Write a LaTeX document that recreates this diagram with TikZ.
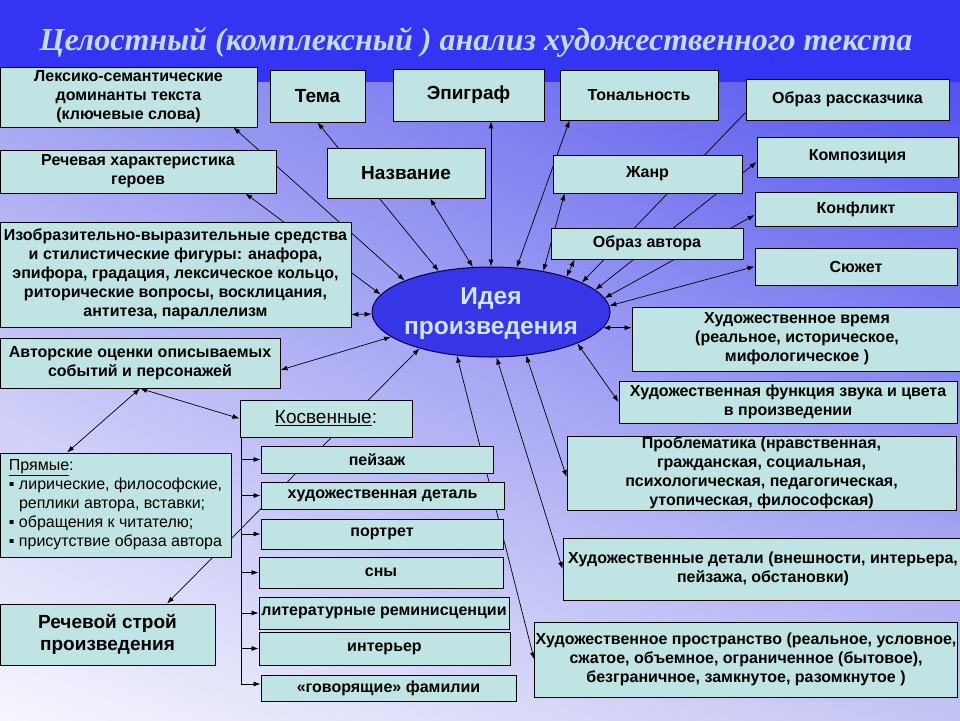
\documentclass[tikz,border=0pt]{standalone}
\usepackage{fontspec}
\setmainfont{Liberation Sans}
\newfontfamily\headserif{Liberation Serif}
\usepackage{tikz}
\usetikzlibrary{calc,arrows.meta,shapes.geometric,shadings}
\definecolor{band}{HTML}{3434F2}
\definecolor{cell}{HTML}{C0E3E3}
\definecolor{core}{HTML}{3636E6}
\definecolor{corelab}{HTML}{CFE5FF}
\definecolor{head}{HTML}{C3DCF5}
\definecolor{bgul}{HTML}{A4A4F2}
\definecolor{bgur}{HTML}{5252EE}
\definecolor{bgll}{HTML}{F6F6FE}
\definecolor{bglr}{HTML}{C4C4F4}
\tikzset{
  box/.style={draw=black, fill=cell, line width=0.9pt, inner sep=1pt, align=center, font=\bfseries\fontsize{16}{19}\selectfont},
  big/.style={box, font=\bfseries\fontsize{19}{22}\selectfont},
  sub/.style={box, font=\bfseries\fontsize{16}{18}\selectfont},
  plain/.style={box, align=left, font=\fontsize{16}{19}\selectfont},
  hub/.style={ellipse, draw=black!70!blue, fill=core, line width=1pt, inner sep=0pt, minimum width=238pt, minimum height=90pt},
  hublab/.style={text=corelab, align=center, font=\bfseries\fontsize{24.5}{30}\selectfont},
  headline/.style={text=head, font=\headserif\bfseries\itshape\fontsize{32}{36}\selectfont},
  link/.style={draw=black, line width=0.7pt, {Latex[length=7pt,width=5pt]}-{Latex[length=7pt,width=5pt]}},
  one/.style={draw=black, line width=0.7pt, -{Latex[length=7pt,width=5pt]}},
}
\pgfdeclarelayer{back}
\pgfdeclarelayer{lines}
\pgfsetlayers{back,lines,main}

\begin{document}
\begin{tikzpicture}[x=1pt, y=-1pt]
  \useasboundingbox (0,0) rectangle (960,720);
  \begin{pgfonlayer}{back}
    \shade[upper left=bgul, upper right=bgur, lower left=bgll, lower right=bglr] (0,82) rectangle (960,720);
    \fill[band] (0,0) rectangle (960,82);
  \end{pgfonlayer}

  \node[headline] (head) at (476,42) {Целостный (комплексный ) анализ художественного текста};

  \node[hub] (idea) at (491,312) {};
  \node[hublab] at ([yshift=-2pt]idea.center) {Идея\\произведения};

  \node[box, minimum width=257pt, minimum height=60pt] (lex) at (128.5,97) {Лексико-семантические\\доминанты текста\\(ключевые слова)};
  \node[big, minimum width=95pt, minimum height=52pt] (tema) at (317.5,96) {Тема};
  \node[big, minimum width=151pt, minimum height=52pt] (epi) at (468.5,95) {Эпиграф};
  \node[box, minimum width=158pt, minimum height=50pt] (ton) at (639,95) {Тональность};
  \node[box, minimum width=203pt, minimum height=41pt] (narr) at (847.5,99.5) {Образ рассказчика};
  \node[box, minimum width=276pt, minimum height=43pt] (rechh) at (138,171.5) {Речевая характеристика\\героев};
  \node[big, minimum width=158pt, minimum height=50pt] (name) at (406,173) {Название};
  \node[box, minimum width=189pt, minimum height=38pt] (genre) at (647.5,174) {Жанр};
  \node[box, minimum width=201pt, minimum height=40pt] (comp) at (857.5,157) {Композиция};
  \node[box, minimum width=202pt, minimum height=34pt] (conf) at (856,209) {Конфликт};
  \node[box, minimum width=192pt, minimum height=31pt] (author) at (647,243.5) {Образ автора};
  \node[box, minimum width=202pt, minimum height=37pt] (plot) at (856,266.5) {Сюжет};
  \node[box, minimum width=351pt, minimum height=105pt] (izo) at (175.5,274.5) {Изобразительно-выразительные  средства\\и стилистические фигуры: анафора,\\эпифора, градация, лексическое кольцо,\\риторические вопросы, восклицания,\\антитеза, параллелизм};
  \node[box, minimum width=330pt, minimum height=64pt] (time) at (797,339) {Художественное время\\(реальное, историческое,\\мифологическое )};
  \node[box, minimum width=280pt, minimum height=50pt] (eval) at (140,363) {Авторские оценки описываемых\\событий и персонажей};
  \node[box, minimum width=338pt, minimum height=42pt] (sound) at (788,402) {Художественная функция звука и цвета\\в произведении};
  \node[box, font=\fontsize{19}{22}\selectfont, minimum width=172pt, minimum height=37pt] (kos) at (326,418.5) {\underline{Косвенные}:};
  \node[box, minimum width=389pt, minimum height=72pt] (probl) at (761.5,473) {Проблематика (нравственная,\\гражданская, социальная,\\психологическая, педагогическая,\\утопическая, философская)};
  \node[plain, minimum width=231pt, minimum height=104pt] (direct) at (115.5,505) {\underline{Прямые}:\\▪ лирические, философские,\\\phantom{▪ }реплики автора, вставки;\\▪ обращения к читателю;\\▪ присутствие образа автора};
  \node[sub, minimum width=232pt, minimum height=27pt] (pejz) at (377,459.5) {пейзаж};
  \node[sub, minimum width=243pt, minimum height=27pt] (detal) at (382.5,495.5) {художественная деталь};
  \node[sub, minimum width=242pt, minimum height=30pt] (portr) at (382,534) {портрет};
  \node[sub, minimum width=244pt, minimum height=31pt] (sny) at (381,572.5) {сны};
  \node[sub, minimum width=250pt, minimum height=32pt] (lit) at (384,613) {литературные реминисценции};
  \node[sub, minimum width=251pt, minimum height=33pt] (inter) at (384.5,648.5) {интерьер};
  \node[sub, minimum width=255pt, minimum height=26pt] (fam) at (388.5,688) {«говорящие» фамилии};
  \node[big, minimum width=215pt, minimum height=61pt] (stroy) at (107.5,634.5) {Речевой строй\\произведения};
  \node[box, minimum width=400pt, minimum height=62pt] (det) at (763,569) {Художественные детали (внешности, интерьера,\\пейзажа, обстановки)};
  \node[box, minimum width=422pt, minimum height=75pt] (space) at (746,659.5) {Художественное пространство (реальное, условное,\\сжатое, объемное, ограниченное (бытовое),\\безграничное, замкнутое, разомкнутое )};

  \begin{pgfonlayer}{lines}
    \draw[link] ([xshift=-24pt]lex.south east) -- (idea.160);
    \draw[link] ([xshift=-31pt]rechh.south east) -- (idea.171);
    \draw[link] ([yshift=-40pt]izo.east) -- (idea.181);
    \draw[link] (tema.south) -- (idea.142);
    \draw[link] ([xshift=24pt]name.south) -- (idea.112);
    \draw[link] (idea.north) -- (idea.north |- epi.south);
    \draw[link] ([xshift=10pt]ton.south west) -- (idea.60);
    \draw[link] ([xshift=12pt]genre.south west) -- (idea.38);
    \draw[link] ([xshift=24pt]author.south west) -- (idea.25);
    \draw[one] ([yshift=8pt]narr.south west) -- (idea.18);
    \draw[link] ([yshift=-5pt]comp.west) -- (idea.12);
    \draw[link] ([yshift=-6pt]conf.west) -- (idea.7);
    \draw[link] (plot.west) -- (idea.3);
    \draw[link] (idea.-8) -- (idea.-8 -| time.west);
    \draw[link] (sound.west) -- (idea.-20);
    \draw[link] ([yshift=-4pt]probl.west) -- (idea.-51);
    \draw[link] (det.west) -- (idea.-83);
    \draw[link] (space.west) -- (idea.-128);
    \draw[link] ([xshift=59.5pt]stroy.north) -- (idea.-153);
    \draw[link] ([yshift=-7pt]eval.east) -- (idea.-166);
    \draw[link] (eval.south) -- ([xshift=-48.5pt]direct.north);
    \draw[link] (eval.south) -- (kos.west);
    \coordinate (kx) at ([xshift=2pt]kos.south west);
    \foreach \n in {pejz,detal,portr,sny,lit,inter}
      \draw[one] (kx |- \n.west) -- (\n.west);
    \draw[one] (kx) |- ([yshift=4pt]fam.west);
  \end{pgfonlayer}
\end{tikzpicture}
\end{document}
